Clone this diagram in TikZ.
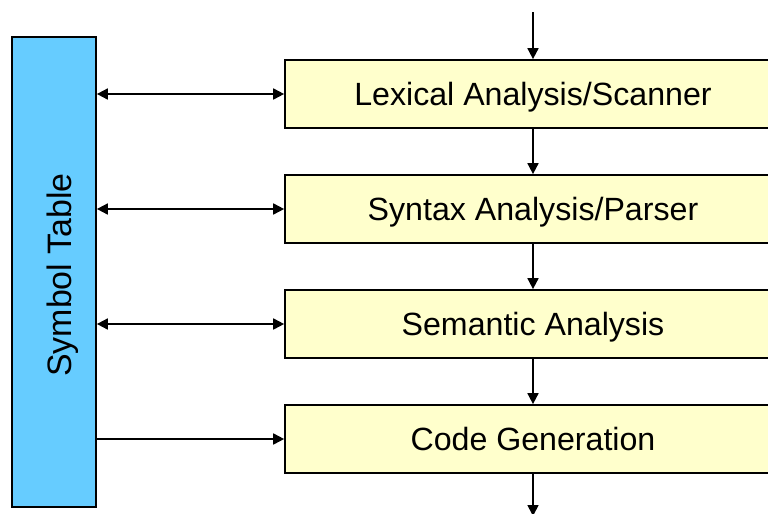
\documentclass[tikz,border=0pt]{standalone}
\usepackage{fontspec}
\setmainfont{Liberation Sans}
\usetikzlibrary{arrows.meta}
\tikzset{
	stage/.style={draw, line width=1pt, fill=stagefill, minimum width=9.92cm, minimum height=1.36cm, text height=12.6pt, text depth=0pt, font=\fontsize{18.3}{22}\selectfont},
	symtab/.style={draw, line width=1pt, fill=tabfill, minimum width=1.68cm, minimum height=9.4cm, font=\fontsize{19.3}{22}\selectfont},
	arr/.style={line width=1pt, -{Triangle[length=2.2mm, width=2.2mm]}},
	both/.style={line width=1pt, {Triangle[length=2.2mm, width=2.2mm]}-{Triangle[length=2.2mm, width=2.2mm]}}
}
\definecolor{stagefill}{HTML}{FFFFCC}
\definecolor{tabfill}{HTML}{66CCFF}
\begin{document}
\begin{tikzpicture}[x=0.02cm, y=-0.02cm]
		\useasboundingbox (0,0) rectangle (768,514);
		\node[symtab] (tab) at (54,272) {\rotatebox{90}{\raisebox{0pt}[20pt][0pt]{Symbol Table\hspace{3.4pt}}}};
		%phases
		\foreach \name/\txt [count=\i] in {lex/{Lexical Analysis/Scanner}, syn/{Syntax Analysis/Parser}, sem/{Semantic Analysis}, gen/{Code Generation}}{
			\node[stage] (\name) at (533, -21 + 115*\i) {\txt};
		}
		\coordinate (in) at (533,12);
		\coordinate (out) at (533,516);
		\draw[arr] (in) -- (lex.north);
		\foreach \a/\b in {lex/syn, syn/sem, sem/gen}
			\draw[arr] (\a) -- (\b);
		\draw[arr] (gen) -- (out);
		%symbol table links
		\foreach \a in {lex, syn, sem}
			\draw[both] (tab.east |- \a.west) -- (\a.west);
		\draw[arr] (tab.east |- gen.west) -- (gen.west);
\end{tikzpicture}
\end{document}
